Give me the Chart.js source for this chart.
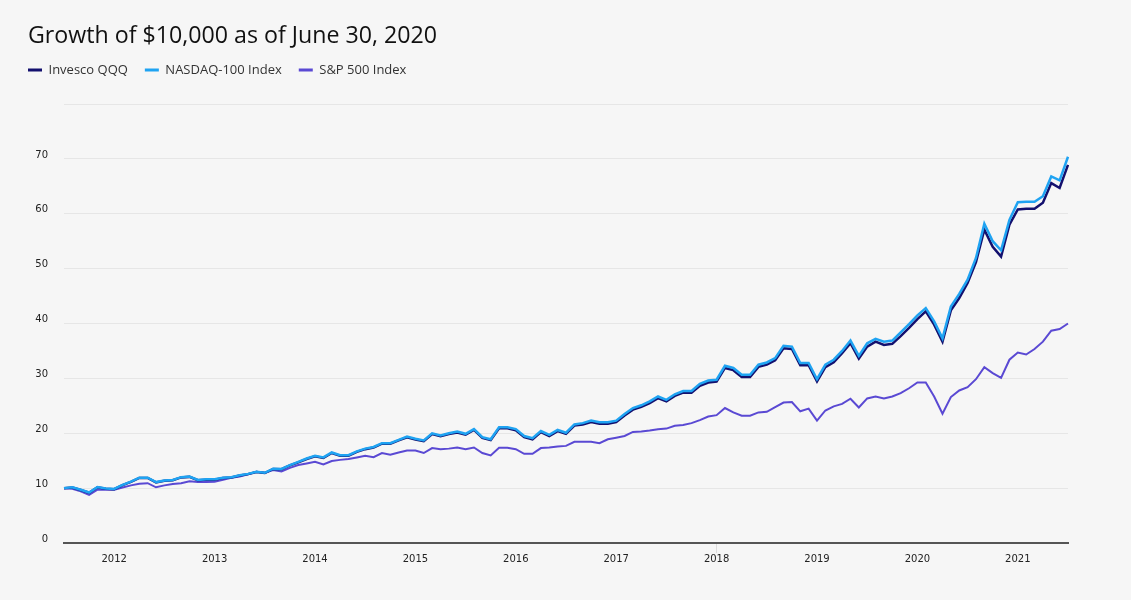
<!DOCTYPE html>
<html>
<head>
<meta charset="utf-8">
<script src="https://cdn.jsdelivr.net/npm/chart.js@4.4.1/dist/chart.umd.min.js"></script>
<style>
  html, body { margin: 0; padding: 0; background: #f6f6f6; }
  #wrap { width: 1131px; height: 600px; position: relative; }
</style>
</head>
<body>
<div id="wrap"><canvas id="growth"></canvas></div>
<script>
// monthly points, Jul 2011 .. Jul 2021 (value of $10,000, in thousands)
var startYear = 2011, startMonth = 7, pointCount = 121;
var yearTicks = ['2012','2013','2014','2015','2016','2017','2018','2019','2020','2021'];

var qqq = [
  10.0, 10.1, 9.65, 9.15, 10.15, 9.9,
  9.8, 10.55, 11.15, 11.85, 11.85, 11.05, 11.35, 11.45, 11.95, 12.05, 11.45, 11.55,
  11.55, 11.85, 11.95, 12.3, 12.55, 12.95, 12.75, 13.5, 13.45, 14.15, 14.7, 15.3,
  15.8, 15.5, 16.4, 15.9, 15.9, 16.6, 17.1, 17.4, 18.1, 18.1, 18.7, 19.25,
  18.85, 18.55, 19.85, 19.45, 19.85, 20.15, 19.75, 20.6, 19.15, 18.75, 20.9, 20.9,
  20.55, 19.3, 18.9, 20.2, 19.5, 20.4, 19.9, 21.4, 21.6, 22.05, 21.75, 21.75,
  22.05, 23.25, 24.3, 24.8, 25.5, 26.4, 25.8, 26.8, 27.4, 27.4, 28.65, 29.25,
  29.4, 31.9, 31.5, 30.25, 30.25, 32.1, 32.5, 33.3, 35.5, 35.35, 32.4, 32.4,
  29.45, 32.05, 32.95, 34.6, 36.4, 33.6, 35.8, 36.7, 36.1, 36.3, 37.7, 39.2,
  40.8, 42.2, 39.8, 36.7, 42.4, 44.65, 47.4, 51.2, 57.1, 54.0, 52.2, 58.0,
  60.8, 60.9, 60.9, 62.0, 65.6, 64.7, 68.9
];
var ndx = [
  10.0, 10.15, 9.7, 9.2, 10.2, 9.95,
  9.85, 10.6, 11.2, 11.9, 11.9, 11.1, 11.4, 11.5, 12.0, 12.1, 11.5, 11.6,
  11.6, 11.9, 12.0, 12.35, 12.6, 13.0, 12.8, 13.55, 13.5, 14.2, 14.8, 15.4,
  15.9, 15.6, 16.5, 16.0, 16.0, 16.7, 17.2, 17.5, 18.2, 18.2, 18.8, 19.4,
  19.0, 18.7, 20.0, 19.6, 20.0, 20.3, 19.9, 20.75, 19.3, 18.9, 21.1, 21.1,
  20.75, 19.5, 19.1, 20.4, 19.7, 20.6, 20.1, 21.6, 21.85, 22.3, 22.0, 22.0,
  22.3, 23.5, 24.6, 25.1, 25.8, 26.7, 26.1, 27.1, 27.7, 27.7, 29.0, 29.6,
  29.75, 32.3, 31.9, 30.65, 30.65, 32.5, 32.9, 33.7, 35.95, 35.8, 32.8, 32.8,
  29.85, 32.5, 33.4, 35.0, 36.9, 34.1, 36.4, 37.2, 36.7, 36.9, 38.4, 39.9,
  41.5, 42.8, 40.4, 37.3, 43.1, 45.4, 48.0, 51.95, 58.2, 55.0, 53.35, 58.9,
  62.1, 62.2, 62.2, 63.2, 66.8, 66.1, 70.4
];
var spx = [
  10.0, 9.9, 9.4, 8.75, 9.7, 9.7,
  9.7, 10.1, 10.5, 10.8, 10.9, 10.15, 10.5, 10.75, 10.9, 11.25, 11.1, 11.1,
  11.15, 11.5, 11.9, 12.1, 12.5, 13.0, 12.8, 13.3, 13.05, 13.7, 14.2, 14.5,
  14.8, 14.3, 14.95, 15.15, 15.3, 15.6, 15.9, 15.65, 16.4, 16.1, 16.5, 16.85,
  16.85, 16.4, 17.3, 17.1, 17.2, 17.4, 17.1, 17.4, 16.4, 15.95, 17.35, 17.35,
  17.1, 16.25, 16.25, 17.3, 17.4, 17.6, 17.7, 18.45, 18.45, 18.45, 18.2, 18.9,
  19.2, 19.5, 20.25, 20.3, 20.5, 20.75, 20.85, 21.35, 21.5, 21.85, 22.4, 23.05,
  23.3, 24.6, 23.8, 23.2, 23.2, 23.8, 23.9, 24.75, 25.6, 25.7, 24.0, 24.5,
  22.3, 24.15, 24.9, 25.35, 26.3, 24.7, 26.35, 26.7, 26.35, 26.7, 27.3, 28.2,
  29.25, 29.25, 26.7, 23.55, 26.6, 27.8, 28.4, 29.85, 32.05, 30.95, 30.1, 33.4,
  34.7, 34.35, 35.35, 36.7, 38.7, 39.0, 40.0
];

var months = [];
for (var k = 0; k < pointCount; k++) {
  var m = startMonth - 1 + k;
  var y = startYear + Math.floor(m / 12);
  var mm = (m % 12) + 1;
  months.push(y + '-' + (mm < 10 ? '0' : '') + mm);
}

function isYearStart(i) {
  return months[i] && months[i].slice(5) === '01' && yearTicks.indexOf(months[i].slice(0, 4)) >= 0;
}

// move legend to where the original has it
var nudge = {
  id: 'nudge',
  afterLayout: function(chart) {
    chart.legend.left = 28 - 17;
    chart.legend.top = 70 - 6.5 - 17;
  }
};

var tickFont = {family: 'DejaVu Sans', size: 10};

new Chart(document.getElementById('growth'), {
  type: 'line',
  data: {
    labels: months,
    datasets: [
      {label: 'Invesco QQQ', data: qqq, borderColor: '#13106e', backgroundColor: '#13106e', borderWidth: 2.5, order: 1},
      {label: 'NASDAQ-100 Index', data: ndx, borderColor: '#1fa3f2', backgroundColor: '#1fa3f2', borderWidth: 2.5, order: 0},
      {label: 'S&P 500 Index', data: spx, borderColor: '#5a49d3', backgroundColor: '#5a49d3', borderWidth: 2, order: 2}
    ]
  },
  options: {
    responsive: true,
    maintainAspectRatio: false,
    animation: false,
    layout: {padding: {left: 28, right: 63, top: 0, bottom: 35}},
    elements: {point: {radius: 0, hoverRadius: 0}, line: {tension: 0}},
    plugins: {
      tooltip: {enabled: false},
      title: {
        display: true,
        text: 'Growth of $10,000 as of June 30, 2020',
        align: 'start',
        color: '#111',
        font: {family: 'Open Sans', size: 23.2, weight: 'normal', lineHeight: 1.2},
        padding: {top: 22, bottom: 14.2}
      },
      legend: {
        align: 'start',
        labels: {
          boxWidth: 14,
          boxHeight: 3,
          padding: 17,
          color: '#333',
          font: {family: 'Open Sans', size: 13},
          sort: function(a, b) { return a.datasetIndex - b.datasetIndex; },
          generateLabels: function(chart) {
            var items = Chart.defaults.plugins.legend.labels.generateLabels(chart);
            items.forEach(function(it) { it.lineWidth = 0; it.fillStyle = it.strokeStyle; });
            return items;
          }
        }
      }
    },
    scales: {
      x: {
        border: {display: true, color: '#555', width: 2},
        grid: {
          drawOnChartArea: false,
          drawTicks: true,
          tickLength: 10,
          tickColor: function(ctx) { return isYearStart(ctx.index) ? '#dcdcdc' : 'rgba(0,0,0,0)'; }
        },
        ticks: {
          autoSkip: false,
          maxRotation: 0,
          padding: 0,
          color: '#222',
          font: tickFont,
          callback: function(v, i) { return isYearStart(i) ? months[i].slice(0, 4) : null; }
        }
      },
      y: {
        min: 0,
        max: 80,
        border: {display: false},
        grid: {color: '#e6e6e6', drawTicks: false},
        afterFit: function(scale) { scale.width = 36; },
        ticks: {
          stepSize: 10,
          padding: 16,
          labelOffset: -4,
          color: '#222',
          font: tickFont,
          callback: function(v) { return v === 80 ? '' : v; }
        }
      }
    }
  },
  plugins: [nudge]
});
</script>
</body>
</html>
